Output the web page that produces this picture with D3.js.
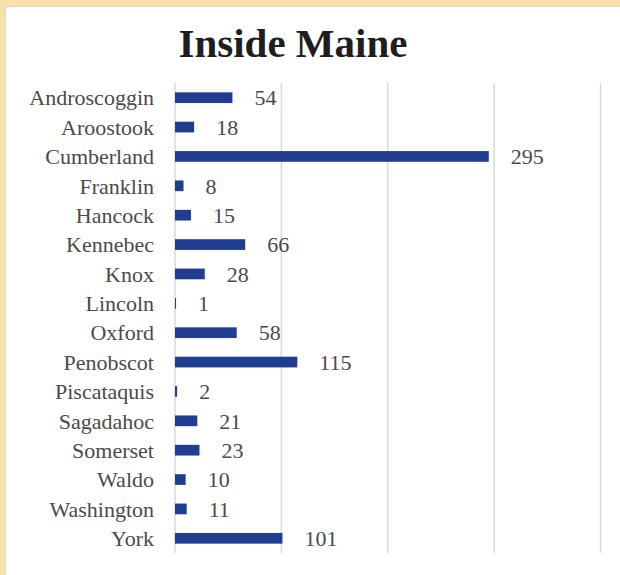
<!DOCTYPE html>
<html>
<head>
<meta charset="utf-8">
<script src="https://cdn.jsdelivr.net/npm/d3@7"></script>
<style>
  html, body { margin: 0; padding: 0; background: #fff; }
  svg { display: block; }
</style>
</head>
<body>
<svg id="chart" width="620" height="575"></svg>
<script>
// County counts inside Maine
const counties = ["Androscoggin", "Aroostook", "Cumberland", "Franklin", "Hancock",
  "Kennebec", "Knox", "Lincoln", "Oxford", "Penobscot", "Piscataquis",
  "Sagadahoc", "Somerset", "Waldo", "Washington", "York"];
const counts = [54, 18, 295, 8, 15, 66, 28, 1, 58, 115, 2, 21, 23, 10, 11, 101];
const gridTicks = [0, 100, 200, 300, 400];
const titleText = "Inside Maine";

const svg = d3.select("#chart");
const W = 620, H = 575;
const fontFam = "'Liberation Serif', 'DejaVu Serif', serif";

// frame
svg.append("rect").attr("x", 0).attr("y", 0).attr("width", W).attr("height", H).attr("fill", "#f9e1ab");
svg.append("rect").attr("x", 5.5).attr("y", 6.5).attr("width", W).attr("height", H)
  .attr("fill", "#ffffff").attr("stroke", "#d6d6d6").attr("stroke-width", 1);

const x = d3.scaleLinear().domain([0, 400]).range([175, 600.5]);
const y = d3.scaleBand().domain(counties).range([83, 553]).paddingInner(0.635).paddingOuter(0.3175);

// vertical gridlines
svg.append("g").selectAll("line").data(gridTicks).join("line")
  .attr("x1", d => x(d)).attr("x2", d => x(d))
  .attr("y1", 83).attr("y2", 553)
  .attr("stroke", "#d9d9d9").attr("stroke-width", 1.5);

// bars
svg.append("g").selectAll("rect").data(counties).join("rect")
  .attr("x", x(0))
  .attr("y", d => y(d))
  .attr("width", (d, i) => x(counts[i]) - x(0))
  .attr("height", y.bandwidth())
  .attr("fill", "#203d92");

// category labels
svg.append("g").selectAll("text").data(counties).join("text")
  .attr("x", 154)
  .attr("y", d => y(d) + y.bandwidth() / 2)
  .attr("dy", "0.35em")
  .attr("text-anchor", "end")
  .attr("font-family", fontFam)
  .attr("font-size", 22)
  .attr("fill", "#4a4a4a")
  .text(d => d);

// value labels
svg.append("g").selectAll("text").data(counties).join("text")
  .attr("x", (d, i) => x(counts[i]) + 22)
  .attr("y", d => y(d) + y.bandwidth() / 2)
  .attr("dy", "0.35em")
  .attr("text-anchor", "start")
  .attr("font-family", fontFam)
  .attr("font-size", 22)
  .attr("fill", "#4a4a4a")
  .text((d, i) => counts[i]);

// title
svg.append("text")
  .attr("x", 293).attr("y", 57)
  .attr("text-anchor", "middle")
  .attr("font-family", fontFam)
  .attr("font-weight", "bold")
  .attr("font-size", 41)
  .attr("fill", "#1e1e1e")
  .text(titleText);
</script>
</body>
</html>
